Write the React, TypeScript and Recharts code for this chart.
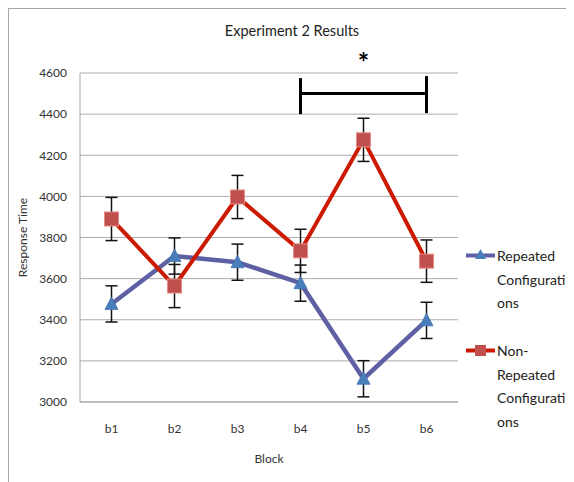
import React from 'react';
import {
  LineChart,
  Line,
  XAxis,
  YAxis,
  CartesianGrid,
  ErrorBar,
  ReferenceLine,
} from 'recharts';

const BLOCKS = ['b1', 'b2', 'b3', 'b4', 'b5', 'b6'];
const REPEATED = [3477, 3710, 3680, 3578, 3113, 3397];
const REPEATED_ERR = [88, 88, 88, 88, 88, 88];
const NON_REPEATED = [3890, 3564, 3997, 3735, 4275, 3685];
const NON_REPEATED_ERR = [105, 105, 105, 105, 105, 103];
const Y_TICKS = [3000, 3200, 3400, 3600, 3800, 4000, 4200, 4400, 4600];

const REPEATED_NAME = 'Repeated Configurations';
const NON_REPEATED_NAME = 'Non-Repeated Configurations';
// Excel wraps the legend text like this
const REPEATED_LINES = ['Repeated', 'Configurati', 'ons'];
const NON_REPEATED_LINES = ['Non-', 'Repeated', 'Configurati', 'ons'];

const FONT = 'Lato, "Open Sans", sans-serif';
const BLUE_LINE = '#5f60a3';
const BLUE_MARK = '#4a7ebb';
const RED_LINE = '#cc1a00';
const RED_MARK = '#c0504d';

const data = BLOCKS.map((b, i) => ({
  block: b,
  rep: REPEATED[i],
  repErr: REPEATED_ERR[i],
  non: NON_REPEATED[i],
  nonErr: NON_REPEATED_ERR[i],
}));

function Triangle(props: any) {
  const { cx, cy, index } = props;
  if (cx == null || cy == null) return null;
  return (
    <path
      key={`tri-${index}`}
      d={`M${cx},${cy - 7} L${cx + 6.5},${cy + 5.5} L${cx - 6.5},${cy + 5.5} Z`}
      fill={BLUE_MARK}
      stroke="#3f72b0"
      strokeWidth={0.8}
    />
  );
}

function Square(props: any) {
  const { cx, cy, index } = props;
  if (cx == null || cy == null) return null;
  return (
    <rect
      key={`sq-${index}`}
      x={cx - 7}
      y={cy - 7}
      width={14}
      height={14}
      fill={RED_MARK}
      stroke="#e58a84"
      strokeWidth={1}
    />
  );
}

function LegendItem({ lines, kind, top }: { lines: string[]; kind: 'tri' | 'sq'; top: number }) {
  return (
    <div style={{ position: 'absolute', left: 457, top, display: 'flex' }}>
      <svg width={31} height={23} style={{ flex: 'none' }}>
        {kind === 'tri' ? (
          <>
            <line x1={0} y1={11.5} x2={29} y2={11.5} stroke={BLUE_LINE} strokeWidth={4} />
            <path d="M14.5,5 L20,15 L9,15 Z" fill={BLUE_MARK} />
          </>
        ) : (
          <>
            <line x1={0} y1={11.5} x2={29} y2={11.5} stroke={RED_LINE} strokeWidth={4} />
            <rect x={9} y={6} width={11} height={11} fill={RED_MARK} />
          </>
        )}
      </svg>
      <div style={{ fontSize: 14, lineHeight: '23.5px', color: '#222' }}>
        {lines.map((l, i) => (
          <div key={i}>{l}</div>
        ))}
      </div>
    </div>
  );
}

export default function App() {
  return (
    <div
      style={{
        position: 'relative',
        width: 580,
        height: 490,
        border: '1px solid #a6a6a6',
        fontFamily: FONT,
        background: '#fff',
      }}
    >
      <style>{'body{overflow:hidden}'}</style>
      <div
        style={{
          position: 'absolute',
          left: 0,
          top: 13,
          width: 566,
          textAlign: 'center',
          fontSize: 14.5,
          color: '#222',
        }}
      >
        Experiment 2 Results
      </div>
      <LineChart
        width={566}
        height={474}
        data={data}
        margin={{ top: 64, right: 117, left: 0, bottom: 0 }}
      >
        <CartesianGrid vertical={false} stroke="#ababab" />
        <XAxis
          dataKey="block"
          height={81}
          padding={{ left: 31.5, right: 31.5 }}
          axisLine={{ stroke: '#a6a6a6' }}
          tickLine={false}
          tickMargin={16}
          tick={{ fontSize: 12, fill: '#333', fontFamily: FONT }}
          label={{ value: 'Block', position: 'insideBottom', offset: 20, fontSize: 12, fill: '#333', fontFamily: FONT }}
        />
        <YAxis
          width={71}
          domain={[3000, 4600]}
          ticks={Y_TICKS}
          interval={0}
          axisLine={{ stroke: '#a6a6a6' }}
          tickLine={false}
          tickMargin={7}
          tick={{ fontSize: 12, fill: '#333', fontFamily: FONT }}
          label={{
            value: 'Response Time',
            angle: -90,
            position: 'insideLeft',
            offset: 14,
            style: { textAnchor: 'middle', fontSize: 12, fill: '#333', fontFamily: FONT },
          }}
        />
        <ReferenceLine
          segment={[{ x: 'b4', y: 4500 }, { x: 'b6', y: 4500 }]}
          stroke="#000"
          strokeWidth={3}
          label={{ value: '*', position: 'top', offset: 22, fontSize: 27, fontWeight: 'bold', fill: '#000', fontFamily: FONT }}
        />
        <ReferenceLine segment={[{ x: 'b4', y: 4400 }, { x: 'b4', y: 4575 }]} stroke="#000" strokeWidth={3} />
        <ReferenceLine segment={[{ x: 'b6', y: 4405 }, { x: 'b6', y: 4585 }]} stroke="#000" strokeWidth={3} />
        <Line
          name={REPEATED_NAME}
          dataKey="rep"
          stroke={BLUE_LINE}
          strokeWidth={4.5}
          dot={Triangle}
          activeDot={false}
          isAnimationActive={false}
        >
          <ErrorBar dataKey="repErr" direction="y" width={6} stroke="#111" strokeWidth={1.5} />
        </Line>
        <Line
          name={NON_REPEATED_NAME}
          dataKey="non"
          stroke={RED_LINE}
          strokeWidth={4}
          dot={Square}
          activeDot={false}
          isAnimationActive={false}
        >
          <ErrorBar dataKey="nonErr" direction="y" width={6} stroke="#111" strokeWidth={1.5} />
        </Line>
      </LineChart>
      <LegendItem lines={REPEATED_LINES} kind="tri" top={235} />
      <LegendItem lines={NON_REPEATED_LINES} kind="sq" top={330} />
    </div>
  );
}
